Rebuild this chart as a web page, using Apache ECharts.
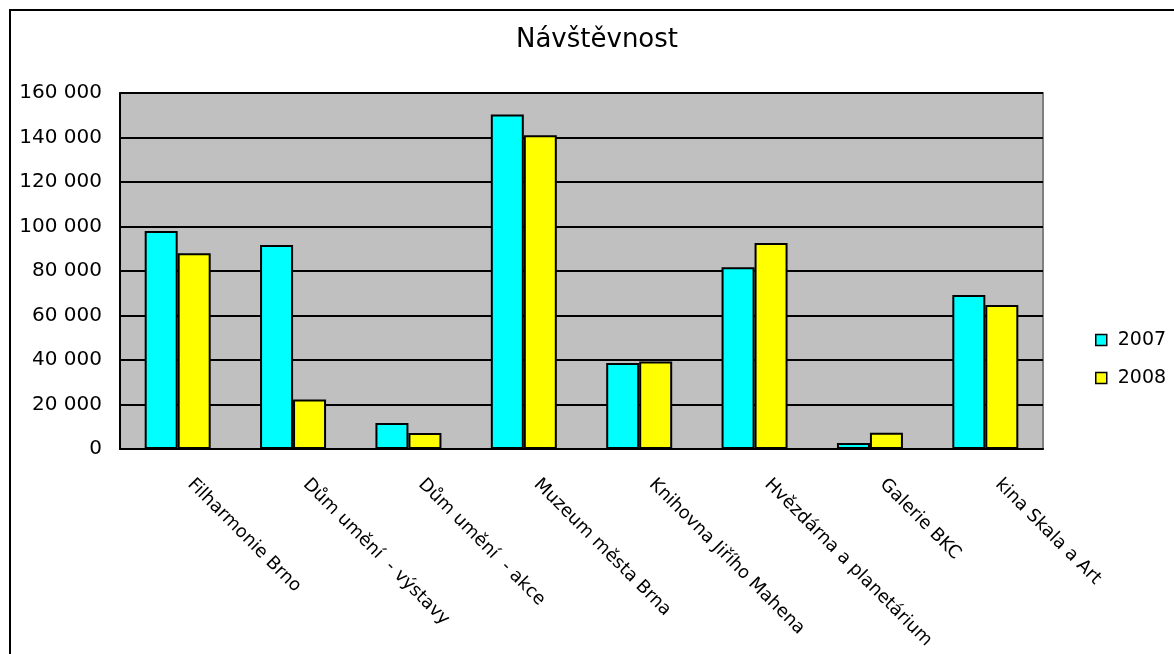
<!DOCTYPE html>
<html>
<head>
<meta charset="utf-8">
<script src="https://cdn.jsdelivr.net/npm/echarts@6/dist/echarts.min.js"></script>
<style>
html,body{margin:0;padding:0;background:#fff;}
#chart{width:1174px;height:654px;}
</style>
</head>
<body>
<div id="chart"></div>
<script>
var categories = ["Filharmonie Brno", "Dům umění  - výstavy", "Dům umění  - akce", "Muzeum města Brna", "Knihovna Jiřího Mahena", "Hvězdárna a planetárium", "Galerie BKC", "kina Skala a Art"];
var values2007 = [98000, 91700, 11700, 150300, 38700, 81700, 2700, 69200];
var values2008 = [88000, 22300, 7200, 141000, 39300, 92600, 7300, 64700];
var seriesNames = ["2007", "2008"];
var yTicks = {min: 0, max: 160000, interval: 20000};

var chart = echarts.init(document.getElementById('chart'), null, {renderer: 'canvas'});
var font = 'DejaVu Sans, Liberation Sans, Arial, sans-serif';
function fmt(v){ return String(v).replace(/\B(?=(\d{3})+(?!\d))/g, ' '); }
chart.setOption({
  animation: false,
  backgroundColor: '#fff',
  textStyle: {fontFamily: font},
  graphic: [{
    type: 'rect', z: 100, silent: true,
    shape: {x: 10, y: 10, width: 1300, height: 800},
    style: {fill: 'none', stroke: '#000', lineWidth: 2}
  }],
  title: {
    text: 'Návštěvnost', left: 597, top: 26, textAlign: 'center', padding: 0,
    textStyle: {fontFamily: font, fontSize: 26, lineHeight: 28, fontWeight: 'normal', color: '#000'}
  },
  legend: {
    orient: 'vertical', left: 1095, top: 330, padding: 0,
    itemWidth: 11, itemHeight: 11, itemGap: 18, icon: 'rect',
    itemStyle: {borderColor: '#000', borderWidth: 1.5},
    textStyle: {fontFamily: font, fontSize: 19, lineHeight: 20, color: '#000', padding: [0,0,0,6]},
    data: seriesNames
  },
  grid: {
    left: 120, top: 93, right: 1174 - 1043, bottom: 654 - 449,
    show: true, backgroundColor: '#c0c0c0', borderColor: '#808080', borderWidth: 2
  },
  xAxis: {
    type: 'category', data: categories,
    axisLine: {lineStyle: {color: '#000', width: 2}},
    axisTick: {show: false},
    axisLabel: {interval: 0, rotate: -45, margin: 20, padding: [0,0,0,18], fontFamily: font, fontSize: 18, color: '#000'}
  },
  yAxis: {
    type: 'value', min: yTicks.min, max: yTicks.max, interval: yTicks.interval,
    axisLine: {show: true, lineStyle: {color: '#000', width: 2}},
    axisTick: {show: false},
    axisLabel: {margin: 18, fontFamily: font, fontSize: 20, color: '#000', formatter: fmt},
    splitLine: {lineStyle: {color: '#000', width: 2}}
  },
  series: [{
    name: seriesNames[0], type: 'bar', data: values2007, barWidth: 33, barGap: '0%',
    itemStyle: {color: '#00ffff', borderColor: '#000', borderWidth: 2}
  }, {
    name: seriesNames[1], type: 'bar', data: values2008, barWidth: 33, barGap: '0%',
    itemStyle: {color: '#ffff00', borderColor: '#000', borderWidth: 2}
  }]
});
</script>
</body>
</html>
